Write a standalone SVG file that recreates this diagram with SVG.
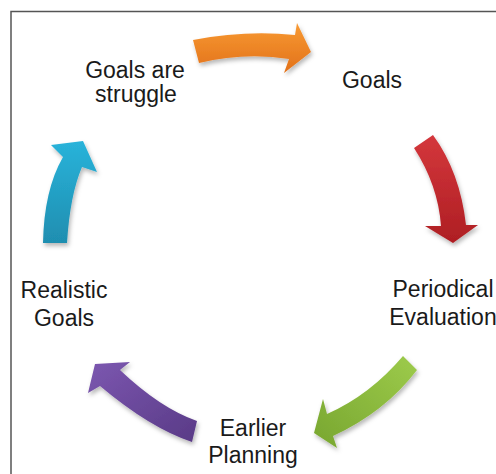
<svg xmlns="http://www.w3.org/2000/svg" width="496" height="474" viewBox="0 0 496 474">
<style>
.t{font-family:"Liberation Sans",Arial,sans-serif;font-size:23px;fill:#1a1a1a;text-anchor:middle}
.arr{filter:url(#sh)}
</style>
<defs>
<filter id="sh" x="-20%" y="-20%" width="150%" height="150%">
<feDropShadow dx="1.5" dy="3" stdDeviation="2" flood-color="#000" flood-opacity="0.28"/>
</filter>
<linearGradient id="gO" x1="0" y1="0" x2="0" y2="1"><stop offset="0" stop-color="#F89A33"/><stop offset="1" stop-color="#E2711A"/></linearGradient>
<linearGradient id="gR" x1="0" y1="0" x2="0" y2="1"><stop offset="0" stop-color="#D4373C"/><stop offset="1" stop-color="#AE1E23"/></linearGradient>
<linearGradient id="gG" x1="1" y1="0" x2="0" y2="1"><stop offset="0" stop-color="#9DCB4B"/><stop offset="1" stop-color="#78A630"/></linearGradient>
<linearGradient id="gP" x1="0" y1="0" x2="1" y2="1"><stop offset="0" stop-color="#7C57B0"/><stop offset="1" stop-color="#593A86"/></linearGradient>
<linearGradient id="gB" x1="0" y1="0" x2="0" y2="1"><stop offset="0" stop-color="#29B3DA"/><stop offset="1" stop-color="#1F8EB0"/></linearGradient>
</defs>
<rect width="496" height="474" fill="#fff"/>
<path d="M11,474 V11.5 H496" fill="none" stroke="#555" stroke-width="1.5"/>
<g id="connectors">
<path class="arr" fill="url(#gO)" d="M193,40 Q245,30 295,35 L297,23 L311,52 L284,73 L289,59 Q245,52 199,63 Z"/>
<path class="arr" fill="url(#gR)" d="M414,148 Q438,185 441,226 L425,226 L453,243 L478,225 L466,225 Q460,172 433,135 Z"/>
<path class="arr" fill="url(#gG)" d="M403,356 Q370,395 327,414 L323,399 L314,433 L337,448 L333,436 Q385,412 417,370 Z"/>
<path class="arr" fill="url(#gP)" d="M197,421 Q160,408 120,370 L130,362 L95,364 L88,393 L100,386 Q150,428 192,442 Z"/>
<path class="arr" fill="url(#gB)" d="M43,243 Q44,190 63,157 L51,145 L83,141 L97,172 L82,167 Q70,195 67,243 Z"/>
</g>
<g id="node-struggle"><text class="t" x="135" y="78">Goals are</text><text class="t" x="136" y="102">struggle</text></g>
<g id="node-goals"><text class="t" x="372" y="88">Goals</text></g>
<g id="node-evaluation"><text class="t" x="443" y="297">Periodical</text><text class="t" x="443" y="325">Evaluation</text></g>
<g id="node-planning"><text class="t" x="253" y="436">Earlier</text><text class="t" x="253" y="463">Planning</text></g>
<g id="node-realistic"><text class="t" x="64" y="298">Realistic</text><text class="t" x="64" y="326">Goals</text></g>
</svg>
